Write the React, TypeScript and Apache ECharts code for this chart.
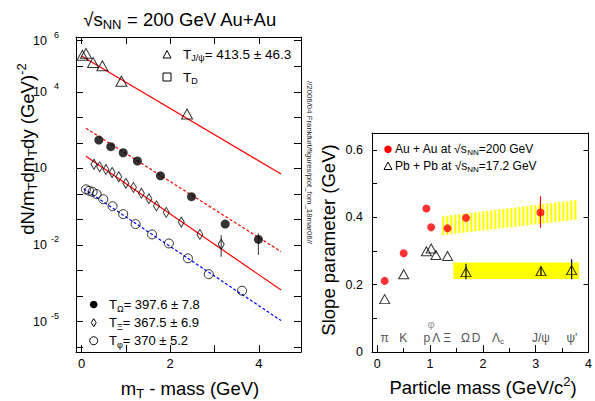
import React, { useEffect, useRef } from 'react';
import * as echarts from 'echarts';

// ---------------- Left panel: m_T spectra, Au+Au 200 GeV ----------------
const jpsiX = [0.02, 0.10, 0.26, 0.47, 0.90, 2.38];
const jpsiY = [2.7e5, 3.2e5, 1.4e5, 1.05e5, 2.6e4, 1.35e3];
const omegaX = [0.39, 0.66, 0.94, 1.26, 1.78, 2.48, 3.24, 3.99];
const omegaY = [129, 71, 41, 19.5, 5.1, 0.78, 0.066, 0.0166];
const xiX = [0.28, 0.41, 0.55, 0.69, 0.84, 1.00, 1.17, 1.35, 1.52, 1.69, 1.91, 2.25, 2.67, 3.15];
const xiY = [14.5, 11.5, 9.1, 6.9, 4.7, 2.6, 1.8, 1.07, 0.65, 0.34, 0.19, 0.079, 0.026, 0.0107];
const phiX = [0.10, 0.17, 0.25, 0.34, 0.49, 0.70, 0.94, 1.22, 1.59, 1.97, 2.40, 2.87, 3.62];
const phiY = [1.51, 1.32, 1.20, 0.98, 0.62, 0.33, 0.162, 0.066, 0.026, 0.0115, 0.0030, 7.2e-4, 1.62e-4];
// error bars: [x, low, high]
const spectraErr = [[3.99, 0.0041, 0.029], [3.15, 0.0035, 0.0245]];
// exponential fit lines: end points [x, y]
const fitJpsi = [[0.0, 2.5e5], [4.5, 6.0]];
const fitOmega = [[0.1, 372], [4.5, 0.0055]];
const fitXi = [[0.1, 30], [4.5, 1.74e-4]];
const fitPhi = [[0.05, 1.6], [4.5, 1.1e-5]];
const yLabelPowers = [6, 4, 1, -2, -5];
const xLabelsLeft = [0, 2, 4];
const yLogMin = -6.19;
const yLogMax = 6.145;

// ---------------- Right panel: slope parameter vs mass ----------------
const auMass = [0.14, 0.50, 0.93, 1.02, 1.33, 1.68, 3.09];
const auSlope = [0.211, 0.293, 0.426, 0.370, 0.367, 0.398, 0.414];
const auErr = [[3.09, 0.369, 0.462]];
const pbMass = [0.14, 0.50, 0.93, 1.02, 1.11, 1.33, 1.68, 3.10, 3.68];
const pbSlope = [0.157, 0.231, 0.299, 0.307, 0.288, 0.285, 0.237, 0.240, 0.243];
const pbErr = [[1.68, 0.216, 0.262], [3.10, 0.226, 0.254], [3.68, 0.216, 0.275]];
// band: [x0, low, x1, high]
const pbBand = [[1.44, 0.217, 3.82, 0.266]];
// hatched band: [x0, low0, high0, x1, low1, high1]
const auBand = [[1.23, 0.347, 0.403, 3.80, 0.394, 0.452]];
const particleNames = ['π', 'K', 'p', 'φ', 'Λ', 'Ξ', 'Ω', 'D', 'Λc', 'J/ψ', "ψ'"];
const particleMass = [0.14, 0.494, 0.938, 1.019, 1.116, 1.322, 1.672, 1.869, 2.286, 3.097, 3.686];

const FONT = '"Liberation Sans", Arial, Helvetica, sans-serif';

function richSet(fs: number) {
  const s = Math.round(fs * 0.68);
  return {
    t: { fontSize: fs, fontFamily: FONT, fill: '#000', color: '#000' },
    sub: { fontSize: s, fontFamily: FONT, fill: '#000', color: '#000', padding: [Math.round(fs * 0.6), 0, 0, 0] },
    sup: { fontSize: s, fontFamily: FONT, fill: '#000', color: '#000', padding: [0, 0, Math.round(fs * 0.6), 0] },
  };
}

function txt(x: number, y: number, text: string, fs: number, opts: any = {}) {
  return {
    type: 'text',
    x,
    y,
    rotation: opts.rotation || 0,
    z: 20,
    style: {
      text,
      fill: opts.fill || '#000',
      fontSize: fs,
      fontFamily: FONT,
      align: opts.align || 'left',
      textAlign: opts.align || 'left',
      verticalAlign: 'middle',
      textVerticalAlign: 'middle',
      rich: richSet(fs),
    },
  };
}

const toLog = (xs: number[], ys: number[]) => xs.map((x, i) => [x, Math.log10(ys[i])]);
const pairsLog = (arr: number[][]) => arr.map((p) => [p[0], Math.log10(p[1])]);

const blackAxisLine = { show: true, onZero: false, lineStyle: { color: '#000', width: 1 } };

function buildOption(): any {
  const errRender = (color: string, logY: boolean) => (params: any, api: any) => {
    const x = api.value(0);
    const lo = logY ? Math.log10(api.value(1)) : api.value(1);
    const hi = logY ? Math.log10(api.value(2)) : api.value(2);
    const a = api.coord([x, lo]);
    const b = api.coord([x, hi]);
    return { type: 'line', shape: { x1: a[0], y1: a[1], x2: b[0], y2: b[1] }, style: { stroke: color, lineWidth: 1.2 } };
  };

  const graphic: any[] = [
    txt(180, 19, '{t|√s}{sub|NN}{t| = 200 GeV Au+Au}', 18.5, { align: 'center' }),
    // top-left legend
    { type: 'polygon', z: 20, shape: { points: [[163, 58], [171, 58], [167, 50.5]] }, style: { fill: 'none', stroke: '#000', lineWidth: 1 } },
    txt(183, 54, '{t|T}{sub|J/ψ}{t|= 413.5 ± 46.3}', 13.5),
    { type: 'rect', z: 20, shape: { x: 163, y: 73, width: 8, height: 8 }, style: { fill: 'none', stroke: '#000', lineWidth: 1 } },
    txt(183, 77, '{t|T}{sub|D}', 13.5),
    // bottom-left legend
    { type: 'circle', z: 20, shape: { cx: 93.7, cy: 304.5, r: 3.8 }, style: { fill: '#000' } },
    txt(109, 304.5, '{t|T}{sub|Ω}{t|= 397.6 ± 7.8}', 13),
    { type: 'polygon', z: 20, shape: { points: [[93.7, 318.7], [96.2, 322.7], [93.7, 326.7], [91.2, 322.7]] }, style: { fill: 'none', stroke: '#000', lineWidth: 1 } },
    txt(109, 322.7, '{t|T}{sub|Ξ}{t|= 367.5 ± 6.9}', 13),
    { type: 'circle', z: 20, shape: { cx: 93.7, cy: 340.7, r: 4 }, style: { fill: 'none', stroke: '#000', lineWidth: 1 } },
    txt(109, 340.7, '{t|T}{sub|φ}{t|= 370 ± 5.2}', 13),
    // axis titles
    txt(27, 149, '{t|dN/m}{sub|T}{t|dm}{sub|T}{t|dy (GeV)}{sup|-2}', 18.5, { align: 'center', rotation: Math.PI / 2 }),
    txt(190, 388, '{t|m}{sub|T}{t| - mass (GeV)}', 18.5, { align: 'center' }),
    txt(328, 240, '{t|Slope parameter (GeV)}', 18.5, { align: 'center', rotation: Math.PI / 2 }),
    txt(483, 387, '{t|Particle mass (GeV/c}{sup|2}{t|)}', 18.5, { align: 'center' }),
    // stamp
    txt(309, 162.5, '//2006/04 Frankfurt/figures/plot_fom_18mar06//', 7.8, { align: 'center', rotation: -Math.PI / 2, fill: '#222' }),
    // right legend
    { type: 'circle', z: 20, shape: { cx: 388, cy: 149.3, r: 3.8 }, style: { fill: '#ff0000' } },
    txt(395, 149.3, '{t|Au + Au at √s}{sub|NN}{t|=200 GeV}', 12),
    { type: 'polygon', z: 20, shape: { points: [[384, 169.5], [392, 169.5], [388, 162]] }, style: { fill: 'none', stroke: '#000', lineWidth: 1 } },
    txt(395, 165.7, '{t|Pb + Pb at √s}{sub|NN}{t|=17.2 GeV}', 12),
  ];

  const leftX = {
    type: 'value', min: -0.125, max: 4.95, minInterval: 1, maxInterval: 1,
    splitLine: { show: false }, axisLine: blackAxisLine,
    axisTick: { show: true, inside: true, length: 7, lineStyle: { color: '#000' } },
  };
  const leftY = {
    type: 'value', min: yLogMin, max: yLogMax, minInterval: 1, maxInterval: 1,
    splitLine: { show: false }, axisLine: blackAxisLine,
    axisTick: { show: true, inside: true, length: 7, lineStyle: { color: '#000' } },
  };

  return {
    animation: false,
    backgroundColor: '#fff',
    textStyle: { fontFamily: FONT },
    grid: [
      { left: 76, top: 37, width: 225, height: 315, show: false },
      { left: 372, top: 133, width: 221, height: 219, show: false },
    ],
    xAxis: [
      {
        ...leftX, gridIndex: 0, position: 'bottom',
        axisLabel: {
          color: '#000', fontSize: 13, margin: 5, fontFamily: FONT,
          formatter: (v: number) => {
            const n = Math.round(v);
            return Math.abs(v - n) < 1e-6 && xLabelsLeft.includes(n) ? String(n) : '';
          },
        },
      },
      { ...leftX, gridIndex: 0, position: 'top', axisLabel: { show: false } },
      {
        type: 'value', gridIndex: 1, position: 'bottom', min: -0.1, max: 4, minInterval: 1, maxInterval: 1,
        splitLine: { show: false }, axisLine: blackAxisLine,
        axisTick: { show: true, inside: true, length: 7, lineStyle: { color: '#000' } },
        minorTick: { show: true, splitNumber: 2, length: 4, lineStyle: { color: '#000' } },
        axisLabel: {
          color: '#000', fontSize: 12.5, margin: 5, fontFamily: FONT,
          formatter: (v: number) => {
            const n = Math.round(v);
            return Math.abs(v - n) < 1e-6 && n >= 0 ? String(n) : '';
          },
        },
      },
      {
        type: 'value', gridIndex: 1, position: 'top', min: -0.1, max: 4,
        splitLine: { show: false }, axisLine: blackAxisLine, axisTick: { show: false }, axisLabel: { show: false },
      },
    ],
    yAxis: [
      {
        ...leftY, gridIndex: 0, position: 'left',
        axisLabel: {
          margin: 17,
          formatter: (v: number) => {
            const n = Math.round(v);
            if (Math.abs(v - n) > 1e-6 || !yLabelPowers.includes(n)) return '';
            return n === 1 ? '{b|10}{s| }' : `{b|10}{s|${n}}`;
          },
          rich: {
            b: { fontSize: 12.5, fontFamily: FONT, color: '#000' },
            s: { fontSize: 9, fontFamily: FONT, color: '#000', width: 9, padding: [0, 0, 12, 3] },
          },
        },
      },
      { ...leftY, gridIndex: 0, position: 'right', axisLabel: { show: false } },
      {
        type: 'value', gridIndex: 1, position: 'left', min: 0, max: 0.65, interval: 0.1,
        splitLine: { show: false }, axisLine: blackAxisLine,
        axisTick: { show: true, inside: true, length: 5, lineStyle: { color: '#000' } },
        axisLabel: {
          color: '#000', fontSize: 12.5, margin: 9, fontFamily: FONT,
          formatter: (v: number) => {
            const k = Math.round(v * 10);
            if (Math.abs(v * 10 - k) > 1e-6 || k % 2 !== 0) return '';
            return k === 0 ? '0' : (k / 10).toFixed(1);
          },
        },
      },
      {
        type: 'value', gridIndex: 1, position: 'right', min: 0, max: 0.65, interval: 0.2,
        splitLine: { show: false }, axisLine: blackAxisLine,
        axisTick: { show: true, inside: true, length: 5, lineStyle: { color: '#000' } },
        axisLabel: { show: false },
      },
    ],
    graphic,
    series: [
      // fit lines
      { type: 'line', xAxisIndex: 0, yAxisIndex: 0, data: pairsLog(fitJpsi), symbol: 'none', z: 2, lineStyle: { color: '#ff0000', width: 1.2 } },
      { type: 'line', xAxisIndex: 0, yAxisIndex: 0, data: pairsLog(fitOmega), symbol: 'none', z: 2, lineStyle: { color: '#ff0000', width: 1.2, type: [3, 2] } },
      { type: 'line', xAxisIndex: 0, yAxisIndex: 0, data: pairsLog(fitXi), symbol: 'none', z: 2, lineStyle: { color: '#ff0000', width: 1.2 } },
      { type: 'line', xAxisIndex: 0, yAxisIndex: 0, data: pairsLog(fitPhi), symbol: 'none', z: 2, lineStyle: { color: '#0000ff', width: 1.2, type: [3, 2] } },
      // error bars
      { type: 'custom', xAxisIndex: 0, yAxisIndex: 0, data: spectraErr, z: 3, renderItem: errRender('#555', true) },
      // markers
      {
        type: 'scatter', xAxisIndex: 0, yAxisIndex: 0, data: toLog(jpsiX, jpsiY), symbol: 'triangle', symbolSize: [11, 10], z: 4,
        itemStyle: { color: 'rgba(0,0,0,0)', borderColor: '#000', borderWidth: 1 },
      },
      {
        type: 'scatter', xAxisIndex: 0, yAxisIndex: 0, data: toLog(omegaX, omegaY), symbol: 'circle', symbolSize: 9, z: 4,
        itemStyle: { color: '#000' },
      },
      {
        type: 'scatter', xAxisIndex: 0, yAxisIndex: 0, data: toLog(xiX, xiY), symbol: 'diamond', symbolSize: [6, 10], z: 4,
        itemStyle: { color: 'rgba(0,0,0,0)', borderColor: '#000', borderWidth: 1 },
      },
      {
        type: 'scatter', xAxisIndex: 0, yAxisIndex: 0, data: toLog(phiX, phiY), symbol: 'circle', symbolSize: 9, z: 4,
        itemStyle: { color: 'rgba(0,0,0,0)', borderColor: '#000', borderWidth: 1 },
      },
      // right panel bands
      {
        type: 'custom', xAxisIndex: 2, yAxisIndex: 2, data: pbBand, z: 1,
        renderItem: (params: any, api: any) => {
          const p0 = api.coord([api.value(0), api.value(3)]);
          const p1 = api.coord([api.value(2), api.value(1)]);
          return { type: 'rect', shape: { x: p0[0], y: p0[1], width: p1[0] - p0[0], height: p1[1] - p0[1] }, style: { fill: '#ffff00' } };
        },
      },
      {
        type: 'custom', xAxisIndex: 2, yAxisIndex: 2, data: auBand, z: 1,
        renderItem: (params: any, api: any) => {
          const a = api.coord([api.value(0), api.value(1)]);
          const b = api.coord([api.value(0), api.value(2)]);
          const c = api.coord([api.value(3), api.value(4)]);
          const d = api.coord([api.value(3), api.value(5)]);
          const children: any[] = [];
          for (let px = a[0]; px < c[0] - 1; px += 4) {
            const t = (px - a[0]) / (c[0] - a[0]);
            const lo = a[1] + t * (c[1] - a[1]);
            const hi = b[1] + t * (d[1] - b[1]);
            children.push({ type: 'rect', shape: { x: px, y: hi, width: 2.2, height: lo - hi }, style: { fill: '#ffff00' } });
          }
          return { type: 'group', children };
        },
      },
      // error bars right
      { type: 'custom', xAxisIndex: 2, yAxisIndex: 2, data: auErr, z: 3, renderItem: errRender('#ff0000', false) },
      { type: 'custom', xAxisIndex: 2, yAxisIndex: 2, data: pbErr, z: 3, renderItem: errRender('#000', false) },
      {
        type: 'scatter', xAxisIndex: 2, yAxisIndex: 2, data: auMass.map((m, i) => [m, auSlope[i]]), symbol: 'circle', symbolSize: 8, z: 4,
        itemStyle: { color: '#ff0000' },
      },
      {
        type: 'scatter', xAxisIndex: 2, yAxisIndex: 2, data: pbMass.map((m, i) => [m, pbSlope[i]]), symbol: 'triangle', symbolSize: [10, 9], z: 4,
        itemStyle: { color: 'rgba(0,0,0,0)', borderColor: '#000', borderWidth: 1 },
      },
      // particle labels
      {
        type: 'scatter', xAxisIndex: 2, yAxisIndex: 2, symbolSize: 1, z: 5,
        itemStyle: { color: 'rgba(0,0,0,0)' },
        data: particleMass.map((m, i) => ({ value: [m, particleNames[i] === 'φ' ? 0.082 : 0.042], name: particleNames[i] })),
        label: {
          show: true, position: 'inside',
          formatter: (p: any) => (p.name === 'Λc' ? '{t|Λ}{c|c}' : p.name === 'φ' ? '{g|φ}' : `{t|${p.name}}`),
          rich: {
            t: { fontSize: 12, fontFamily: FONT, color: '#222' },
            g: { fontSize: 11, fontFamily: FONT, color: '#777' },
            c: { fontSize: 8, fontFamily: FONT, color: '#222', padding: [7, 0, 0, 0] },
          },
        },
      },
    ],
  };
}

export default function App() {
  const ref = useRef<HTMLDivElement>(null);
  useEffect(() => {
    if (!ref.current) return;
    const chart = echarts.init(ref.current, undefined, { renderer: 'svg' });
    chart.setOption(buildOption());
    return () => chart.dispose();
  }, []);
  return (
    <div
      ref={ref}
      style={{ position: 'absolute', left: 0, top: 0, width: 595, height: 401, background: '#fff' }}
    />
  );
}
